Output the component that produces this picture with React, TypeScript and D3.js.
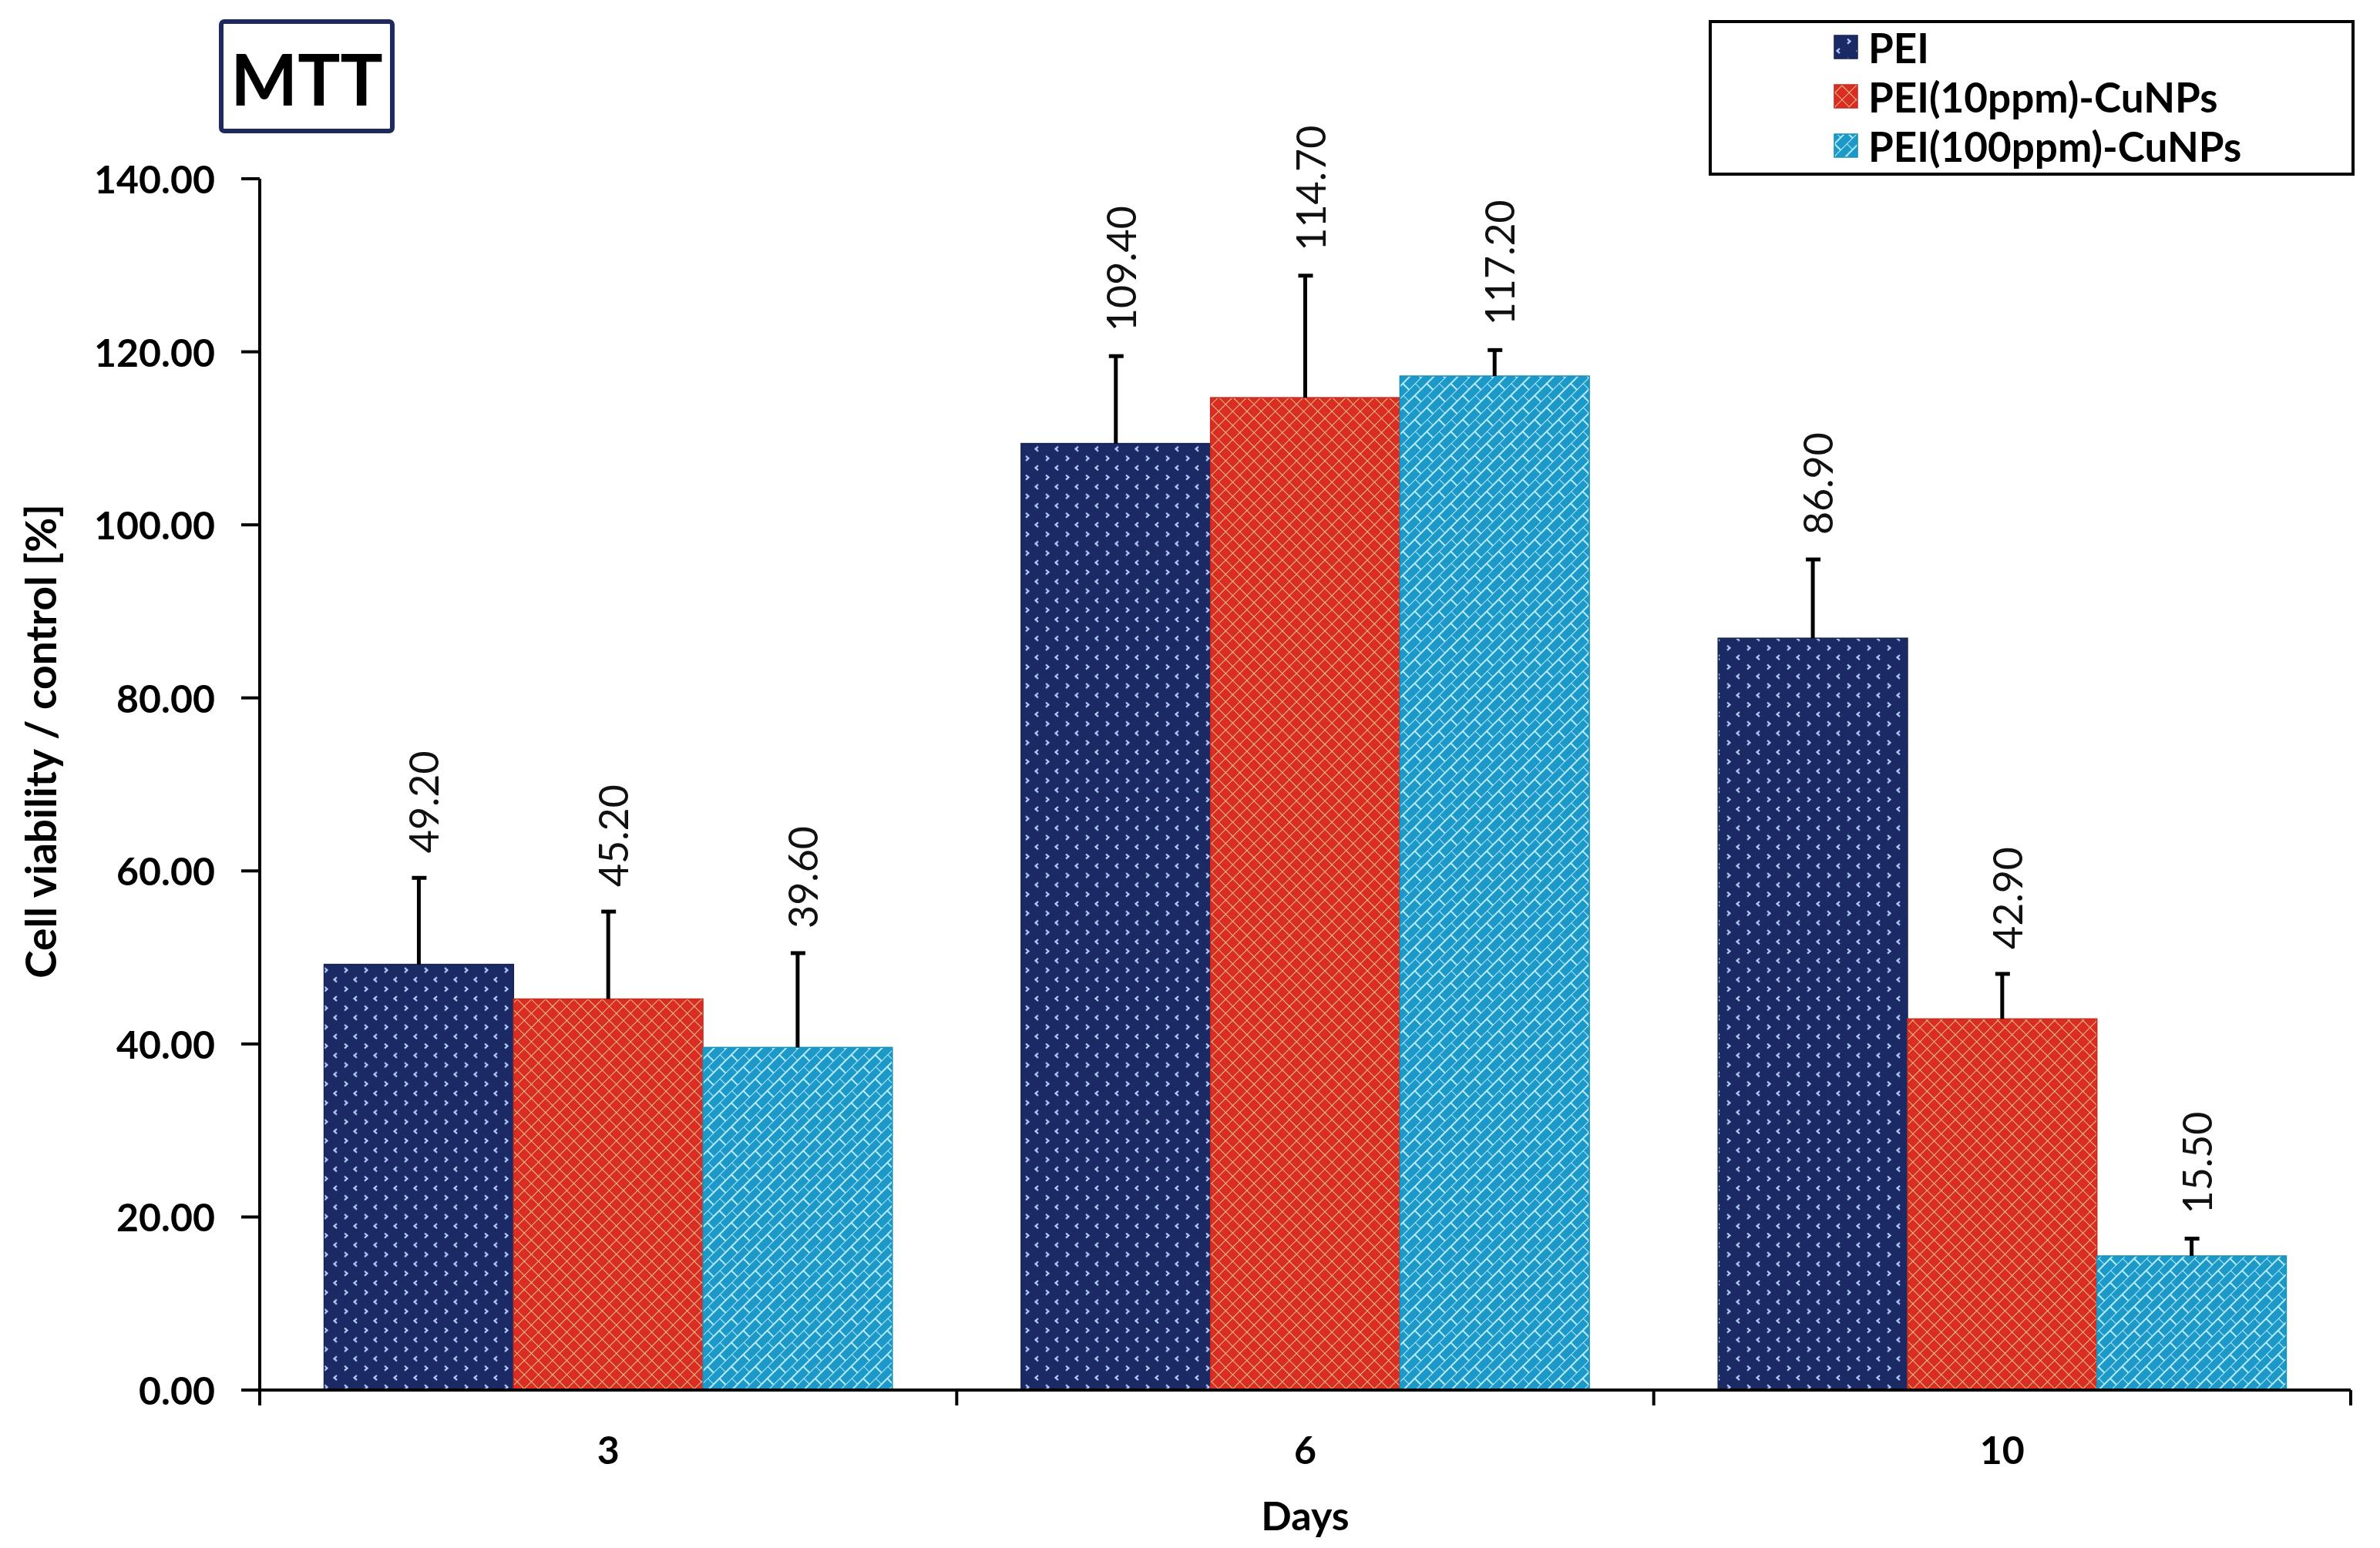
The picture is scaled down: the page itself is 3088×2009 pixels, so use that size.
import React, { useEffect } from 'react';
import * as d3 from 'd3';

const days = ['3', '6', '10'];
const seriesNames = ['PEI', 'PEI(10ppm)-CuNPs', 'PEI(100ppm)-CuNPs'];
const peiValues = [49.2, 109.4, 86.9];
const pei10Values = [45.2, 114.7, 42.9];
const pei100Values = [39.6, 117.2, 15.5];
const peiErrors = [10.0, 10.1, 9.1];
const pei10Errors = [10.1, 14.1, 5.2];
const pei100Errors = [10.9, 3.0, 2.0];
const yTicks = [0, 20, 40, 60, 80, 100, 120, 140];

const seriesValues = [peiValues, pei10Values, pei100Values];
const seriesErrors = [peiErrors, pei10Errors, pei100Errors];
const patternIds = ['patPei', 'patPei10', 'patPei100'];
const edgeColors = ['#16254f', '#c42a1e', '#1a8fb8'];

const W = 3088;
const H = 2009;
const left = 337;
const right = 3050;
const top = 232;
const bottom = 1804;
const font = "Lato, 'Open Sans', sans-serif";

const App: React.FC = () => {
  useEffect(() => {
    document.body.style.margin = '0';
  }, []);

  const x0 = d3.scaleBand().domain(days).range([left, right]).padding(0);
  const x1 = d3
    .scaleBand()
    .domain(seriesNames)
    .range([0, x0.bandwidth()])
    .paddingInner(0)
    .paddingOuter(0.34);
  const y = d3.scaleLinear().domain([0, 140]).range([bottom, top]);
  const fmt = d3.format('.2f');

  const bars = days.flatMap((d, i) =>
    seriesNames.map((s, j) => ({
      day: d,
      series: j,
      value: seriesValues[j][i],
      err: seriesErrors[j][i],
      x: x0(d)! + x1(s)!,
    }))
  );

  const boundaries = [...days.map(d => x0(d)!), right];

  return (
    <svg width={W} height={H} style={{ display: 'block', background: '#fff' }}>
      <defs>
        <pattern id="patPei" width={26} height={24.6} patternUnits="userSpaceOnUse">
          <rect width={26} height={24.6} fill="#1b2a64" />
          <path d="M5 1.5 L8.5 4.5 L5 7.5" fill="none" stroke="#b4cff9" strokeWidth={2.2} />
          <path d="M21 13.8 L17.5 16.8 L21 19.8" fill="none" stroke="#b4cff9" strokeWidth={2.2} />
        </pattern>
        <pattern
          id="patPei10"
          width={13}
          height={13}
          patternUnits="userSpaceOnUse"
          patternTransform="rotate(45)"
        >
          <rect width={13} height={13} fill="#d5301f" />
          <path d="M0 0 H13 M0 0 V13" stroke="#f1b896" strokeWidth={2} />
          <circle cx={6.5} cy={6.5} r={2.4} fill="#e8262a" />
        </pattern>
        <pattern
          id="patPei100"
          width={22}
          height={22}
          patternUnits="userSpaceOnUse"
          patternTransform="rotate(-45)"
        >
          <rect width={22} height={22} fill="#1c99c9" />
          <path d="M0 0 H22 M0 11 H22 M0 0 V11 M11 11 V22" stroke="#b6ebf7" strokeWidth={2} />
        </pattern>
      </defs>

      {/* bars */}
      {bars.map((b, k) => (
        <rect
          key={k}
          x={b.x}
          y={y(b.value)}
          width={x1.bandwidth()}
          height={y(0) - y(b.value)}
          fill={`url(#${patternIds[b.series]})`}
          stroke={edgeColors[b.series]}
          strokeWidth={1.5}
        />
      ))}

      {/* error bars */}
      {bars.map((b, k) => {
        const cx = b.x + x1.bandwidth() / 2;
        const yt = y(b.value + b.err);
        return (
          <g key={`e${k}`} stroke="#000" strokeWidth={5}>
            <line x1={cx} x2={cx} y1={y(b.value)} y2={yt} />
            <line x1={cx - 9} x2={cx + 10} y1={yt} y2={yt} />
          </g>
        );
      })}

      {/* value labels */}
      {bars.map((b, k) => {
        const cx = b.x + x1.bandwidth() / 2 + 6;
        const yt = y(b.value + b.err) - 32;
        return (
          <text
            key={`v${k}`}
            transform={`translate(${cx},${yt}) rotate(-90)`}
            textAnchor="start"
            dominantBaseline="central"
            fontFamily={font}
            fontSize={52}
            fill="#111"
          >
            {fmt(b.value)}
          </text>
        );
      })}

      {/* axes */}
      <g stroke="#000" strokeWidth={4}>
        <line x1={left} x2={left} y1={top} y2={bottom + 20} />
        <line x1={left - 24} x2={right} y1={bottom} y2={bottom} />
        {yTicks.map(t => (
          <line key={t} x1={left - 24} x2={left} y1={y(t)} y2={y(t)} />
        ))}
        {boundaries.map((bx, i) => (
          <line key={i} x1={bx} x2={bx} y1={bottom} y2={bottom + 20} />
        ))}
      </g>
      {yTicks.map(t => (
        <text
          key={t}
          x={279}
          y={y(t)}
          textAnchor="end"
          dominantBaseline="central"
          fontFamily={font}
          fontWeight="bold"
          fontSize={50}
        >
          {fmt(t)}
        </text>
      ))}
      {days.map(d => (
        <text
          key={d}
          x={x0(d)! + x0.bandwidth() / 2}
          y={1881}
          textAnchor="middle"
          dominantBaseline="central"
          fontFamily={font}
          fontWeight="bold"
          fontSize={50}
        >
          {d}
        </text>
      ))}
      <text
        x={(left + right) / 2}
        y={1966}
        textAnchor="middle"
        dominantBaseline="central"
        fontFamily={font}
        fontWeight="bold"
        fontSize={52}
      >
        Days
      </text>
      <text
        transform={`translate(52,962) rotate(-90)`}
        textAnchor="middle"
        dominantBaseline="central"
        fontFamily={font}
        fontWeight="bold"
        fontSize={55}
      >
        Cell viability / control [%]
      </text>

      {/* MTT box */}
      <rect x={287} y={28} width={222} height={142} rx={4} fill="#fff" stroke="#1f2a5c" strokeWidth={6} />
      <text
        x={398}
        y={101}
        textAnchor="middle"
        dominantBaseline="central"
        fontFamily={font}
        fontWeight="bold"
        fontSize={92}
      >
        MTT
      </text>

      {/* legend */}
      <rect x={2219} y={28} width={834} height={198} fill="#fff" stroke="#000" strokeWidth={4} />
      {seriesNames.map((s, j) => {
        const cy = 61 + j * 64;
        return (
          <g key={s}>
            <rect
              x={2380}
              y={cy - 15}
              width={30}
              height={30}
              fill={`url(#${patternIds[j]})`}
              stroke={edgeColors[j]}
              strokeWidth={1.5}
            />
            <text
              x={2424}
              y={cy}
              dominantBaseline="central"
              fontFamily={font}
              fontWeight="bold"
              fontSize={53}
            >
              {s}
            </text>
          </g>
        );
      })}
    </svg>
  );
};

export default App;
